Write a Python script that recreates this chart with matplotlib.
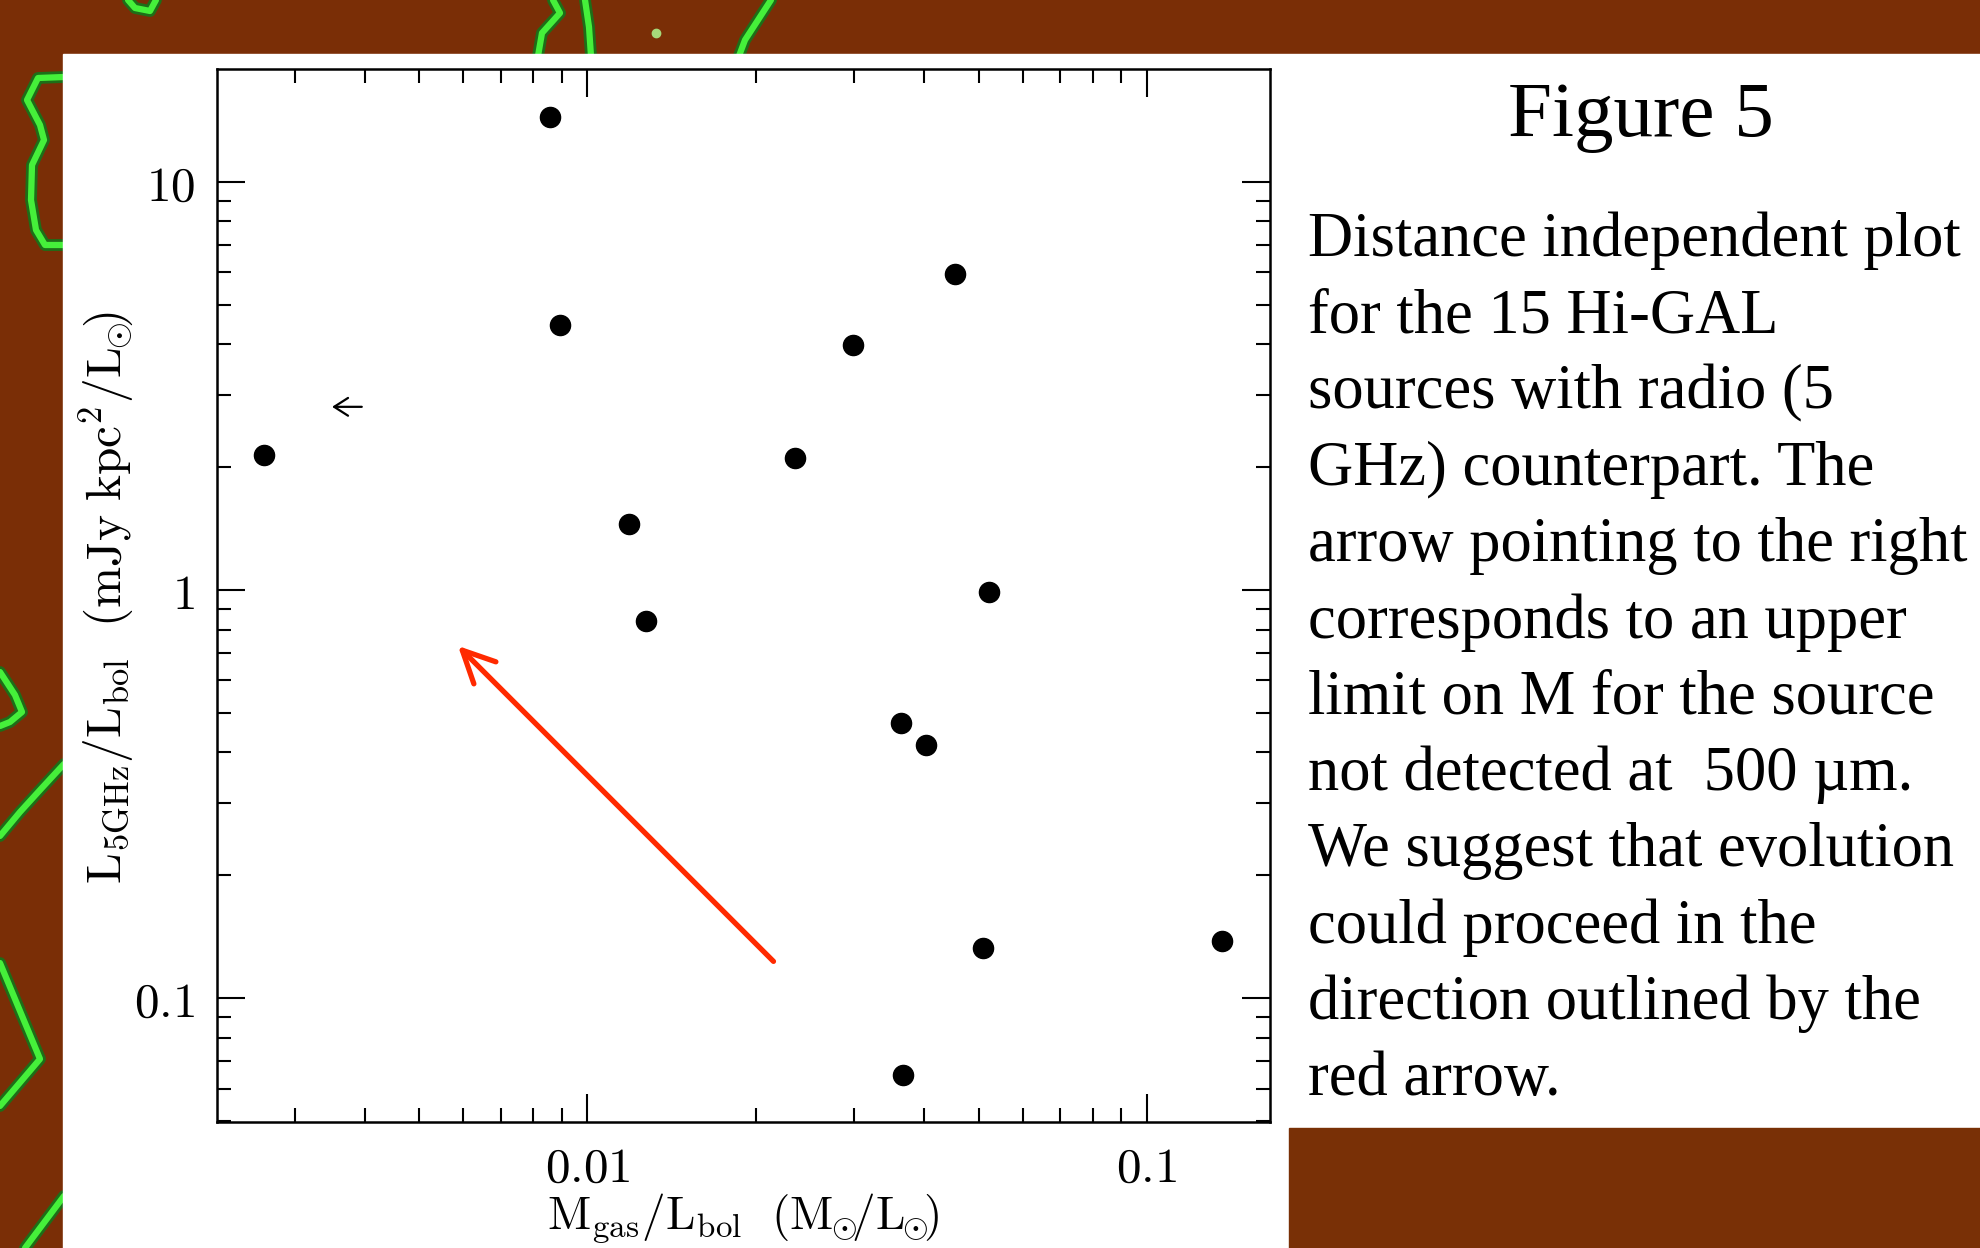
import matplotlib
matplotlib.use("Agg")
import matplotlib.pyplot as plt
from matplotlib.patches import Rectangle
from matplotlib.ticker import LogLocator, FuncFormatter, NullFormatter, FixedLocator

plt.rcParams['mathtext.fontset'] = 'cm'

# Hi-GAL sources with a 5 GHz counterpart
m_gas = [0.00856, 0.00892, 0.00264, 0.01187, 0.0127, 0.0235, 0.0298,
         0.0454, 0.0522, 0.0363, 0.0403, 0.0509, 0.136, 0.0367]
l_radio = [14.4, 4.47, 2.14, 1.45, 0.837, 2.11, 3.99,
           5.94, 0.986, 0.473, 0.416, 0.133, 0.138, 0.0648]

# source not detected at 500 um -> upper limit on M
lim_x = 0.00395
lim_y = 2.81

# suggested evolutionary direction
evo_start = (0.0215, 0.123)
evo_end = (0.00587, 0.729)

caption = [
    "Distance independent plot",
    "for the 15 Hi-GAL",
    "sources with radio (5",
    "GHz) counterpart. The",
    "arrow pointing to the right",
    "corresponds to an upper",
    "limit on M for the source",
    "not detected at  500 \u00b5m.",
    "We suggest that evolution",
    "could proceed in the",
    "direction outlined by the",
    "red arrow.",
]

BROWN = '#7a2e06'
W, H = 1981, 1248

fig = plt.figure(figsize=(W / 100, H / 100), dpi=100, facecolor=BROWN)

# slide background, pixel coordinates
bg = fig.add_axes([0, 0, 1, 1])
bg.set_xlim(0, W)
bg.set_ylim(H, 0)
bg.axis('off')

contours = [
    [(128, 0), (135, 8), (150, 11), (156, 0)],
    [(553, 0), (560, 13), (542, 33), (538, 56)],
    [(585, 0), (589, 27), (591, 56)],
    [(771, 0), (758, 20), (745, 40), (739, 56)],
    [(64, 77), (38, 78), (27, 100), (40, 125), (44, 140), (32, 165),
     (31, 200), (36, 230), (45, 245), (64, 245)],
    [(0, 672), (15, 695), (22, 712), (10, 722), (0, 726)],
    [(0, 836), (20, 812), (40, 790), (64, 764)],
    [(0, 963), (40, 1059), (0, 1106)],
    [(25, 1248), (61, 1200), (64, 1196)],
]
for c in contours:
    xs, ys = zip(*c)
    bg.plot(xs, ys, color='#1d6e18', lw=8.5, solid_capstyle='round')
    bg.plot(xs, ys, color='#45f03a', lw=4.5, solid_capstyle='round')
bg.plot([656], [33], 'o', color='#a6d97a', ms=6)

bg.add_patch(Rectangle((63, 54), W - 63, H - 54, color='white', zorder=3))
bg.add_patch(Rectangle((1289, 1128), W - 1289, H - 1128, color='#793006', zorder=4))

# caption panel
bg.text(1641, 136, "Figure 5", ha='center', va='baseline',
        family='Liberation Serif', fontsize=57, zorder=5)
for i, line in enumerate(caption):
    bg.text(1308, 256 + i * 76.3, line, ha='left', va='baseline',
            family='Liberation Serif', fontsize=45, zorder=5)

# axis labels
sun = r'_{\!\!\odot\!\!\!}'
bg.text(106, 598, r'$\mathrm{L_{5GHz}/L_{bol}}\ \ (\mathrm{mJy\ kpc^2/L' + sun + '})$',
        rotation=90, ha='center', va='center', fontsize=35.5, zorder=5)
bg.text(743, 1245, r'$\mathrm{M_{gas}/L_{bol}}\ \ (\mathrm{M' + sun + '/L' + sun + '})$',
        ha='center', va='bottom', fontsize=34, zorder=5)

ax = fig.add_axes([217 / W, 1 - 1122 / H, (1270 - 217) / W, (1122 - 69) / H])
ax.set_facecolor('white')
ax.set_xscale('log')
ax.set_yscale('log')
ax.set_xlim(0.002177, 0.1659)
ax.set_ylim(0.0497, 18.9)

ax.plot(m_gas, l_radio, 'o', color='black', ms=14.5, mec='black')

ax.annotate('', xy=(lim_x * 0.885, lim_y), xytext=(lim_x, lim_y),
            arrowprops=dict(arrowstyle='->,head_length=0.5,head_width=0.32',
                            color='black', lw=1.6, mutation_scale=20,
                            shrinkA=0, shrinkB=0))
ax.annotate('', xy=evo_end, xytext=evo_start,
            arrowprops=dict(arrowstyle='->,head_length=1.15,head_width=0.56',
                            color='#ff2a00', lw=3.8, mutation_scale=20,
                            shrinkA=0, shrinkB=0))

fmt = FuncFormatter(lambda v, _: r'$\mathrm{%g}$' % v)
ax.xaxis.set_major_locator(FixedLocator([0.01, 0.1]))
ax.yaxis.set_major_locator(FixedLocator([0.1, 1, 10]))
ax.xaxis.set_minor_locator(LogLocator(base=10, subs=range(2, 10)))
ax.yaxis.set_minor_locator(LogLocator(base=10, subs=range(2, 10)))
ax.xaxis.set_major_formatter(fmt)
ax.yaxis.set_major_formatter(fmt)
ax.xaxis.set_minor_formatter(NullFormatter())
ax.yaxis.set_minor_formatter(NullFormatter())

ax.tick_params(which='both', direction='in', top=True, right=True,
               width=1.5, color='black', labelsize=35.5)
ax.tick_params(which='major', length=20, pad=16)
ax.tick_params(which='minor', length=10)
for s in ax.spines.values():
    s.set_linewidth(1.8)

fig.savefig('out.png', dpi=100, facecolor=fig.get_facecolor())
